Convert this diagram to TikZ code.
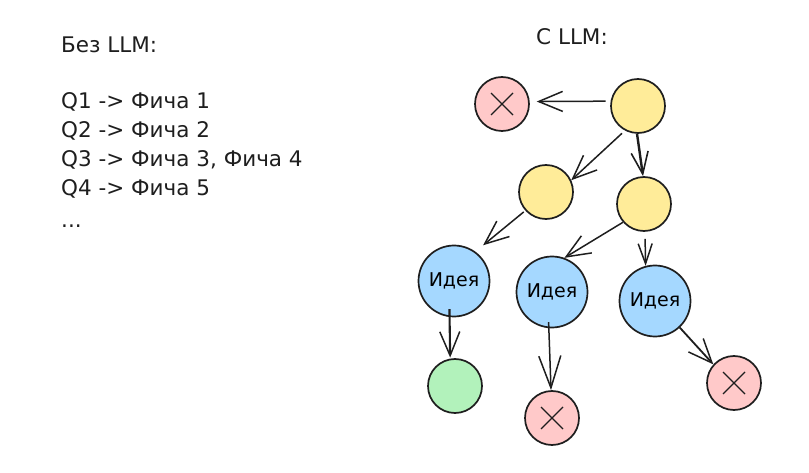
\documentclass[tikz,border=0pt]{standalone}
\usepackage{fontspec}
\setmainfont{DejaVu Sans}
\usetikzlibrary{arrows.meta,calc}
\definecolor{ink}{HTML}{1E1E1E}
\definecolor{cred}{HTML}{FFC9C9}
\definecolor{cyel}{HTML}{FFEC99}
\definecolor{cblue}{HTML}{A5D8FF}
\definecolor{cgreen}{HTML}{B2F2BB}
\tikzset{
  ball/.style={circle, draw=ink, line width=1.7pt, inner sep=0pt},
  redball/.style={ball, fill=cred, minimum size=54pt},
  yelball/.style={ball, fill=cyel, minimum size=54pt},
  greenball/.style={ball, fill=cgreen, minimum size=54pt},
  blueball/.style={ball, fill=cblue, minimum size=71pt, font=\fontsize{19}{21}\selectfont},
  conn/.style={draw=ink, line width=1.5pt, -{Straight Barb[length=24pt,width=20pt,line width=1.5pt]}},
  txt/.style={anchor=west, inner sep=0pt, font=\fontsize{21.5}{24}\selectfont, text=ink},
  cross/.style={draw=ink, line width=1.2pt}
}
\begin{document}
\begin{tikzpicture}[x=1pt,y=-1pt]
\useasboundingbox (0,0) rectangle (809,473);
% left text
\node[txt] (t0) at (61,45) {Без LLM:};
\node[txt] (t1) at (61,102) {Q1 -> Фича 1};
\node[txt] (t2) at (61,131) {Q2 -> Фича 2};
\node[txt] (t3) at (61,160) {Q3 -> Фича 3, Фича 4};
\node[txt] (t4) at (61,189) {Q4 -> Фича 5};
\node[txt] (t5) at (61,226) {...};
\node[txt] (tr) at (536,37) {С LLM:};
% nodes
\node[redball] (x1) at (502,104) {};
\node[yelball] (y1) at (638,106) {};
\node[yelball] (y2) at (546,192) {};
\node[yelball] (y3) at (644,204) {};
\node[blueball] (b1) at (454,281) {Идея};
\node[blueball] (b2) at (552,292) {Идея};
\node[blueball] (b3) at (655,301) {Идея};
\node[greenball] (g1) at (455,386) {};
\node[redball] (x2) at (552,418) {};
\node[redball] (x3) at (734,383) {};
% crosses
\foreach \n in {x1,x2,x3}{
  \draw[cross] ($(\n)+(-11,-11)$) -- ($(\n)+(11,11)$);
  \draw[cross] ($(\n)+(-11,11)$) -- ($(\n)+(11,-11)$);
}
% connectors
\draw[conn, shorten <=5pt, shorten >=7pt] (y1.170) -- (x1.5);
\draw[conn, shorten <=4pt] (y1.242) -- (y2.25);
\draw[conn, line width=2.4pt, -{Straight Barb[length=22pt,width=17pt,line width=1.6pt]}] (y1.268) -- (y3.92);
\draw[conn, shorten <=2pt, shorten >=10pt] (y2.222) -- (b1.54);
\draw[conn] (y3.221) -- (b2.70);
\draw[conn, shorten <=7pt, -{Straight Barb[length=20pt,width=14pt,line width=1.5pt]}] (y3.272) -- (b3.105);
\draw[conn, line width=2.1pt, shorten <=-8pt, shorten >=1pt] (b1.263) -- (g1.100);
\draw[conn, shorten <=-6pt, -{Straight Barb[length=32pt,width=22pt,line width=1.5pt]}] (b2.265) -- (x2.92);
\draw[conn, line width=1.8pt] (b3.-47) -- (x3.138);
\end{tikzpicture}
\end{document}
